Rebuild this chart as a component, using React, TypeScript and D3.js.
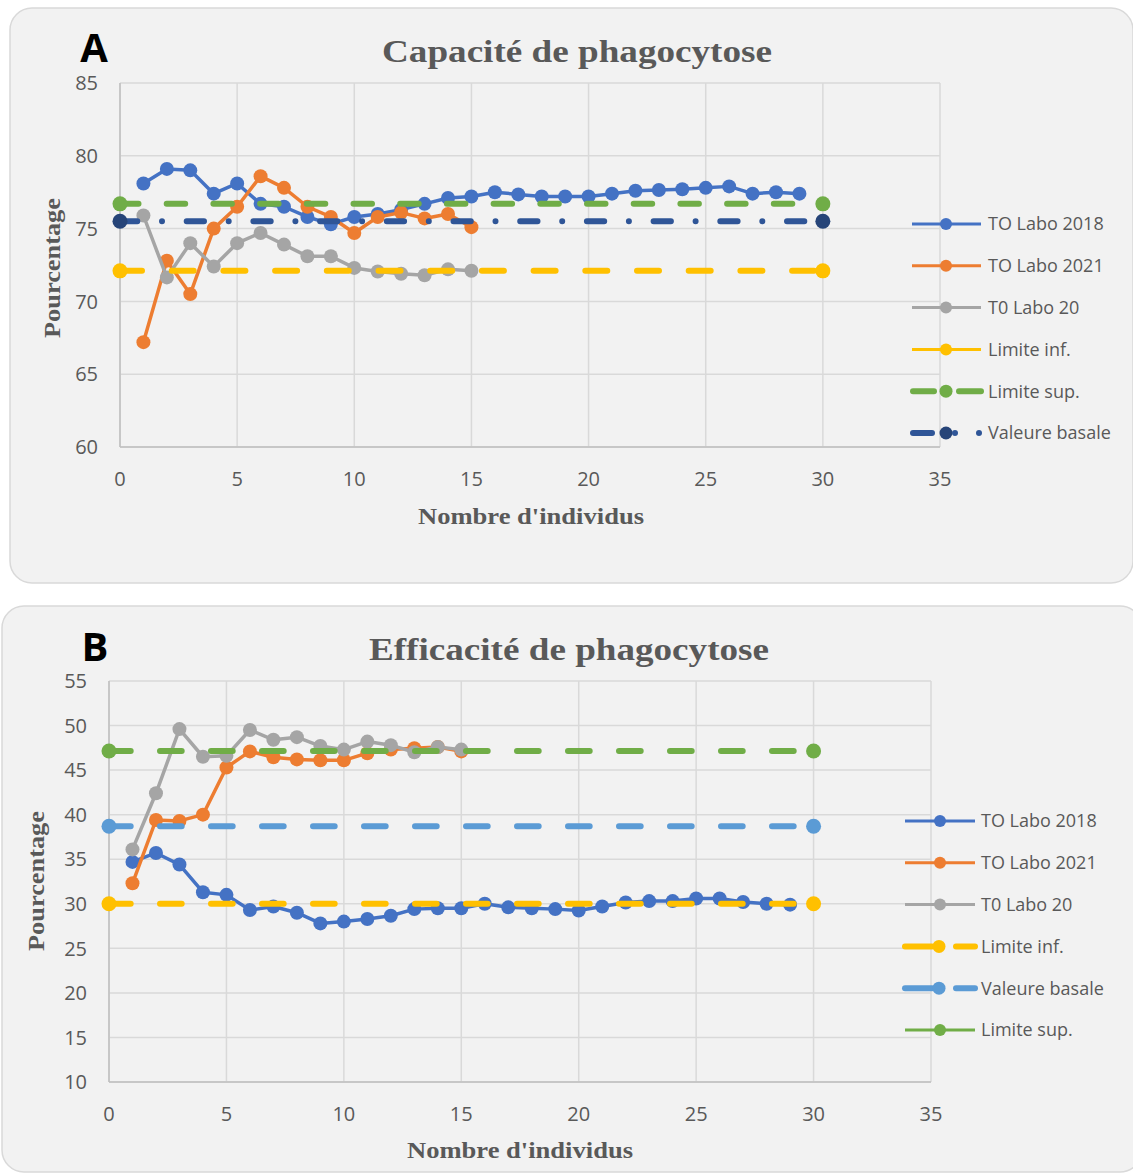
import React from 'react';
import * as d3 from 'd3';

// ---------- DATA ----------
const xTicks = [0, 5, 10, 15, 20, 25, 30, 35];

// Panel A : Capacité de phagocytose
const capLabo2018 = [78.1, 79.1, 79.0, 77.4, 78.1, 76.7, 76.5, 75.8, 75.3, 75.8, 76.0, 76.3, 76.7, 77.1, 77.2, 77.5, 77.35, 77.2, 77.2, 77.2, 77.4, 77.6, 77.65, 77.7, 77.8, 77.9, 77.4, 77.5, 77.4];
const capLabo2021 = [67.2, 72.8, 70.5, 75.0, 76.5, 78.6, 77.8, 76.5, 75.8, 74.7, 75.8, 76.1, 75.7, 76.0, 75.1];
const capLabo20 = [75.9, 71.65, 74.0, 72.4, 74.0, 74.7, 73.9, 73.1, 73.1, 72.3, 72.05, 71.9, 71.8, 72.2, 72.1];
const capLimInf = 72.1;
const capLimSup = 76.7;
const capBasale = 75.5;
const capYTicks = [60, 65, 70, 75, 80, 85];

// Panel B : Efficacité de phagocytose
const effLabo2018 = [34.7, 35.7, 34.4, 31.3, 31.0, 29.3, 29.7, 29.0, 27.8, 28.0, 28.3, 28.65, 29.4, 29.5, 29.5, 30.0, 29.6, 29.5, 29.4, 29.25, 29.7, 30.15, 30.3, 30.3, 30.6, 30.6, 30.2, 30.0, 29.9];
const effLabo2021 = [32.3, 39.4, 39.3, 40.0, 45.3, 47.1, 46.45, 46.2, 46.1, 46.1, 46.9, 47.3, 47.45, 47.6, 47.1];
const effLabo20 = [36.1, 42.4, 49.6, 46.5, 46.6, 49.5, 48.4, 48.7, 47.7, 47.3, 48.2, 47.8, 47.0, 47.6, 47.3];
const effLimInf = 30.0;
const effBasale = 38.7;
const effLimSup = 47.15;
const effYTicks = [10, 15, 20, 25, 30, 35, 40, 45, 50, 55];

const limitX = [0, 30];

// ---------- STYLE ----------
const C = {
  blue: '#4472C4',
  orange: '#ED7D31',
  gray: '#A5A5A5',
  yellow: '#FFC000',
  green: '#70AD47',
  navyLine: '#2F5597',
  navyMark: '#264478',
  lightBlue: '#5B9BD5',
  text: '#595959',
  grid: '#D9D9D9',
  axis: '#BFBFBF',
};
const SANS = '"Open Sans", "Noto Sans", sans-serif';
const SERIF = '"Liberation Serif", "DejaVu Serif", serif';

type Series = {
  name: string;
  kind: 'data' | 'limit';
  values: number[];
  color: string;
  markColor?: string;
  dash?: string;
  legend: 'solid' | 'dash' | 'dashdot' | 'dashgap';
};

type PanelCfg = {
  letter: string;
  title: string;
  titleX: number;
  titleY: number;
  titleLen: number;
  rect: { x: number; y: number; w: number; h: number };
  letterX: number;
  letterY: number;
  plot: { l: number; r: number; t: number; b: number };
  yDomain: [number, number];
  yTicks: number[];
  yLabX: number;
  yLabY: number;
  xLabX: number;
  xLabY: number;
  xTickY: number;
  yTickX: number;
  legend: { x1: number; xm: number; x2: number; tx: number; y0: number; dy: number };
  series: Series[];
};

const panels: PanelCfg[] = [
  {
    letter: 'A',
    title: 'Capacité de phagocytose',
    titleX: 577,
    titleY: 62,
    titleLen: 390,
    rect: { x: 10, y: 8, w: 1123, h: 575 },
    letterX: 94,
    letterY: 62,
    plot: { l: 120, r: 940, t: 83, b: 447 },
    yDomain: [60, 85],
    yTicks: capYTicks,
    yLabX: 52,
    yLabY: 268,
    xLabX: 531,
    xLabY: 524,
    xTickY: 486,
    yTickX: 98,
    legend: { x1: 912, xm: 946, x2: 981, tx: 988, y0: 224, dy: 41.8 },
    series: [
      { name: 'TO Labo 2018', kind: 'data', values: capLabo2018, color: C.blue, legend: 'solid' },
      { name: 'TO Labo 2021', kind: 'data', values: capLabo2021, color: C.orange, legend: 'solid' },
      { name: 'T0 Labo 20', kind: 'data', values: capLabo20, color: C.gray, legend: 'solid' },
      { name: 'Limite inf.', kind: 'limit', values: [capLimInf, capLimInf], color: C.yellow, dash: '22 29.7', legend: 'solid' },
      { name: 'Limite sup.', kind: 'limit', values: [capLimSup, capLimSup], color: C.green, dash: '18.5 28.2', legend: 'dash' },
      { name: 'Valeure basale', kind: 'limit', values: [capBasale, capBasale], color: C.navyLine, markColor: C.navyMark, dash: '17.3 24.7 0 24.7', legend: 'dashdot' },
    ],
  },
  {
    letter: 'B',
    title: 'Efficacité de phagocytose',
    titleX: 569,
    titleY: 660,
    titleLen: 400,
    rect: { x: 2, y: 606, w: 1140, h: 566 },
    letterX: 95,
    letterY: 661,
    plot: { l: 109, r: 931, t: 681, b: 1082 },
    yDomain: [10, 55],
    yTicks: effYTicks,
    yLabX: 36,
    yLabY: 881,
    xLabX: 520,
    xLabY: 1158,
    xTickY: 1121,
    yTickX: 87,
    legend: { x1: 905, xm: 940, x2: 975, tx: 981, y0: 821, dy: 41.8 },
    series: [
      { name: 'TO Labo 2018', kind: 'data', values: effLabo2018, color: C.blue, legend: 'solid' },
      { name: 'TO Labo 2021', kind: 'data', values: effLabo2021, color: C.orange, legend: 'solid' },
      { name: 'T0 Labo 20', kind: 'data', values: effLabo20, color: C.gray, legend: 'solid' },
      { name: 'Limite inf.', kind: 'limit', values: [effLimInf, effLimInf], color: C.yellow, dash: '21.7 29.3', legend: 'dashgap' },
      { name: 'Valeure basale', kind: 'limit', values: [effBasale, effBasale], color: C.lightBlue, dash: '21.7 29.3', legend: 'dashgap' },
      { name: 'Limite sup.', kind: 'limit', values: [effLimSup, effLimSup], color: C.green, dash: '21.7 29.3', legend: 'solid' },
    ],
  },
];

const MR = 7;

function LegendItem({ s, cfg, i }: { s: Series; cfg: PanelCfg; i: number }) {
  const L = cfg.legend;
  const y = L.y0 + i * L.dy;
  const mc = s.markColor || s.color;
  let sym: React.ReactNode = null;
  if (s.legend === 'solid') {
    sym = (
      <g>
        <line x1={L.x1} x2={L.x2} y1={y} y2={y} stroke={s.color} strokeWidth={3} />
        <circle cx={L.xm} cy={y} r={MR - 1} fill={mc} />
      </g>
    );
  } else if (s.legend === 'dash') {
    sym = (
      <g strokeLinecap="round">
        <line x1={L.x1 + 1} x2={L.x1 + 22} y1={y} y2={y} stroke={s.color} strokeWidth={6} />
        <line x1={L.x2 - 22} x2={L.x2} y1={y} y2={y} stroke={s.color} strokeWidth={6} />
        <circle cx={L.xm} cy={y} r={MR - 0.5} fill={mc} />
      </g>
    );
  } else if (s.legend === 'dashdot') {
    sym = (
      <g strokeLinecap="round">
        <line x1={L.x1 + 1} x2={L.x1 + 20} y1={y} y2={y} stroke={s.color} strokeWidth={6} />
        <circle cx={L.xm} cy={y} r={MR - 0.5} fill={mc} />
        <circle cx={L.xm + 9} cy={y} r={3} fill={s.color} />
        <circle cx={L.x2 - 2} cy={y} r={3} fill={s.color} />
      </g>
    );
  } else {
    sym = (
      <g strokeLinecap="round">
        <line x1={L.x1} x2={L.x1 + 27} y1={y} y2={y} stroke={s.color} strokeWidth={6} />
        <line x1={L.x2 - 19} x2={L.x2} y1={y} y2={y} stroke={s.color} strokeWidth={6} />
        <circle cx={L.xm - 1} cy={y} r={MR - 0.5} fill={mc} />
      </g>
    );
  }
  return (
    <g>
      {sym}
      <text x={L.tx} y={y} dy="0.36em" fontFamily={SANS} fontSize={18} fill={C.text}>
        {s.name}
      </text>
    </g>
  );
}

function Panel({ cfg }: { cfg: PanelCfg }) {
  const { plot } = cfg;
  const x = d3.scaleLinear().domain([0, 35]).range([plot.l, plot.r]);
  const y = d3.scaleLinear().domain(cfg.yDomain).range([plot.b, plot.t]);
  const line = d3
    .line<[number, number]>()
    .x((d) => x(d[0]))
    .y((d) => y(d[1]));

  return (
    <g>
      <rect x={cfg.rect.x} y={cfg.rect.y} width={cfg.rect.w} height={cfg.rect.h} rx={22} ry={22} fill="#F2F2F2" stroke="#D9D9D9" strokeWidth={1.5} />
      {/* grid */}
      {cfg.yTicks.map((t) => (
        <line key={'gy' + t} x1={plot.l} x2={plot.r} y1={y(t)} y2={y(t)} stroke={C.grid} strokeWidth={1.5} />
      ))}
      {xTicks.map((t) => (
        <line key={'gx' + t} x1={x(t)} x2={x(t)} y1={plot.t} y2={plot.b} stroke={C.grid} strokeWidth={1.5} />
      ))}
      <line x1={plot.l} x2={plot.l} y1={plot.t} y2={plot.b} stroke={C.axis} strokeWidth={1.5} />
      <line x1={plot.l} x2={plot.r} y1={plot.b} y2={plot.b} stroke={C.axis} strokeWidth={1.5} />
      {/* tick labels */}
      {cfg.yTicks.map((t) => (
        <text key={'ty' + t} x={cfg.yTickX} y={y(t)} dy="0.36em" textAnchor="end" fontFamily={SANS} fontSize={20} fill={C.text}>
          {t}
        </text>
      ))}
      {xTicks.map((t) => (
        <text key={'tx' + t} x={x(t)} y={cfg.xTickY} textAnchor="middle" fontFamily={SANS} fontSize={20} fill={C.text}>
          {t}
        </text>
      ))}
      {/* series */}
      {cfg.series.map((s, si) => {
        const pts: [number, number][] =
          s.kind === 'data' ? s.values.map((v, i) => [i + 1, v]) : s.values.map((v, i) => [limitX[i], v]);
        const mc = s.markColor || s.color;
        if (s.kind === 'data') {
          return (
            <g key={'s' + si}>
              <path d={line(pts) || ''} fill="none" stroke={s.color} strokeWidth={3.5} strokeLinejoin="round" />
              {pts.map((p, i) => (
                <circle key={i} cx={x(p[0])} cy={y(p[1])} r={MR} fill={mc} />
              ))}
            </g>
          );
        }
        return (
          <g key={'s' + si}>
            <path d={line(pts) || ''} fill="none" stroke={s.color} strokeWidth={6} strokeDasharray={s.dash} strokeLinecap="round" />
            {pts.map((p, i) => (
              <circle key={i} cx={x(p[0])} cy={y(p[1])} r={MR + 0.5} fill={mc} />
            ))}
          </g>
        );
      })}
      {/* texts */}
      <text x={cfg.letterX} y={cfg.letterY} textAnchor="middle" fontFamily={SANS} fontWeight="bold" fontSize={40} fill="#000">
        {cfg.letter}
      </text>
      <text x={cfg.titleX} y={cfg.titleY} textAnchor="middle" fontFamily={SERIF} fontWeight="bold" fontSize={32} fill={C.text} textLength={cfg.titleLen} lengthAdjust="spacingAndGlyphs">
        {cfg.title}
      </text>
      <text x={cfg.xLabX} y={cfg.xLabY} textAnchor="middle" fontFamily={SERIF} fontWeight="bold" fontSize={24} fill={C.text} textLength={226} lengthAdjust="spacingAndGlyphs">
        Nombre d'individus
      </text>
      <text transform={`translate(${cfg.yLabX},${cfg.yLabY}) rotate(-90)`} textAnchor="middle" dy="0.35em" fontFamily={SERIF} fontWeight="bold" fontSize={24} fill={C.text} textLength={140} lengthAdjust="spacingAndGlyphs">
        Pourcentage
      </text>
      {/* legend */}
      {cfg.series.map((s, i) => (
        <LegendItem key={'l' + i} s={s} cfg={cfg} i={i} />
      ))}
    </g>
  );
}

export default function App() {
  return (
    <svg width={1133} height={1173} style={{ position: 'absolute', left: 0, top: 0, background: '#fff' }}>
      {panels.map((p) => (
        <Panel key={p.letter} cfg={p} />
      ))}
    </svg>
  );
}
